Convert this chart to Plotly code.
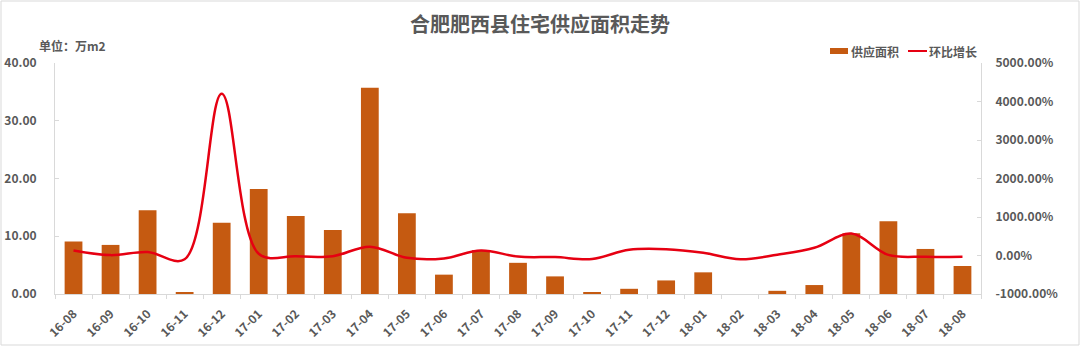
import plotly.graph_objects as go

months = ["16-08", "16-09", "16-10", "16-11", "16-12", "17-01", "17-02", "17-03", "17-04",
          "17-05", "17-06", "17-07", "17-08", "17-09", "17-10", "17-11", "17-12", "18-01",
          "18-02", "18-03", "18-04", "18-05", "18-06", "18-07", "18-08"]
supply_area = [9.1, 8.5, 14.5, 0.3, 12.35, 18.2, 13.5, 11.1, 35.7, 14.0, 3.35, 7.6, 5.4,
               3.05, 0.35, 0.9, 2.35, 3.75, 0.0, 0.55, 1.55, 10.5, 12.6, 7.8, 4.85]
mom_growth = [130, 10, 90, -98, 4200, 47, -20, -18, 230, -60, -76, 130, -29,
              -42, -88, 150, 165, 70, -100, 20, 200, 570, 15, -30, -35]

left_ticks = [0, 10, 20, 30, 40]
right_ticks = [-1000, 0, 1000, 2000, 3000, 4000, 5000]
right_tick_text = [f"{v:.2f}%" for v in right_ticks]

FONT = "Noto Sans CJK SC, Open Sans, sans-serif"
GRAY = "#595959"
AXIS = "#D9D9D9"
BAR_COLOR = "#C55A11"
LINE_COLOR = "#E60012"

W, H = 1080, 346
L, R, T, B = 55, 99, 63, 52
PW, PH = W - L - R, H - T - B


def px(x):
    return (x - L) / PW


def py(y):
    return (H - B - y) / PH


fig = go.Figure()
fig.add_trace(go.Bar(
    x=months, y=supply_area, name="供应面积",
    marker=dict(color=BAR_COLOR, line=dict(width=0)),
    yaxis="y",
))
fig.add_trace(go.Scatter(
    x=months, y=mom_growth, name="环比增长", mode="lines",
    line=dict(color=LINE_COLOR, width=2.5, shape="spline", smoothing=1.0),
    yaxis="y2",
))

legend_font = dict(size=12, color=GRAY, family=FONT, weight="bold")

fig.update_layout(
    width=W, height=H,
    margin=dict(l=L, r=R, t=T, b=B),
    paper_bgcolor="white", plot_bgcolor="white",
    font=dict(family=FONT, color=GRAY, size=12),
    bargap=0.52,
    showlegend=False,
    title=dict(text="合肥肥西县住宅供应面积走势", x=0.5, xanchor="center",
               y=1 - 25 / H, yanchor="middle", yref="container",
               font=dict(size=20, color=GRAY, family=FONT, weight="bold")),
    xaxis=dict(
        type="category", tickangle=-45, showgrid=False, automargin=False,
        showline=True, linecolor=AXIS, linewidth=1,
        ticks="outside", tickson="boundaries", ticklen=4, tickcolor=AXIS,
        ticklabelstandoff=7,
        tickfont=dict(size=12, color=GRAY, family=FONT, weight="bold"),
    ),
    yaxis=dict(
        range=[0, 40], tickvals=left_ticks, tickformat=".2f", showgrid=False,
        automargin=False,
        showline=True, linecolor=AXIS, linewidth=1, zeroline=False,
        ticks="inside", ticklen=4, tickcolor=AXIS, ticklabelstandoff=15,
        tickfont=dict(size=12, color=GRAY, family=FONT, weight="bold"),
    ),
    yaxis2=dict(
        range=[-1000, 5000], tickvals=right_ticks, ticktext=right_tick_text,
        overlaying="y", side="right", showgrid=False, zeroline=False,
        automargin=False,
        showline=True, linecolor=AXIS, linewidth=1,
        ticks="inside", ticklen=4, tickcolor=AXIS, ticklabelstandoff=11,
        tickfont=dict(size=12, color=GRAY, family=FONT, weight="bold"),
    ),
    annotations=[
        dict(text="单位：万m2", xref="paper", yref="paper",
             x=px(37), y=py(46), xanchor="left", yanchor="middle", showarrow=False,
             font=dict(size=12, color=GRAY, family=FONT, weight="bold")),
        dict(text="供应面积", xref="paper", yref="paper",
             x=px(849), y=py(51), xanchor="left", yanchor="middle", showarrow=False,
             font=legend_font),
        dict(text="环比增长", xref="paper", yref="paper",
             x=px(927), y=py(51), xanchor="left", yanchor="middle", showarrow=False,
             font=legend_font),
    ],
    shapes=[
        dict(type="rect", xref="paper", yref="paper",
             x0=px(830), x1=px(848), y0=py(54), y1=py(48),
             line=dict(width=0), fillcolor=BAR_COLOR),
        dict(type="line", xref="paper", yref="paper",
             x0=px(908), x1=px(927), y0=py(51), y1=py(51),
             line=dict(color=LINE_COLOR, width=2)),
        dict(type="rect", xref="paper", yref="paper",
             x0=px(1), x1=px(W - 1), y0=py(H - 1), y1=py(1),
             line=dict(color="#D9D9D9", width=1), fillcolor="rgba(0,0,0,0)"),
    ],
)

fig.write_html("out.html")
